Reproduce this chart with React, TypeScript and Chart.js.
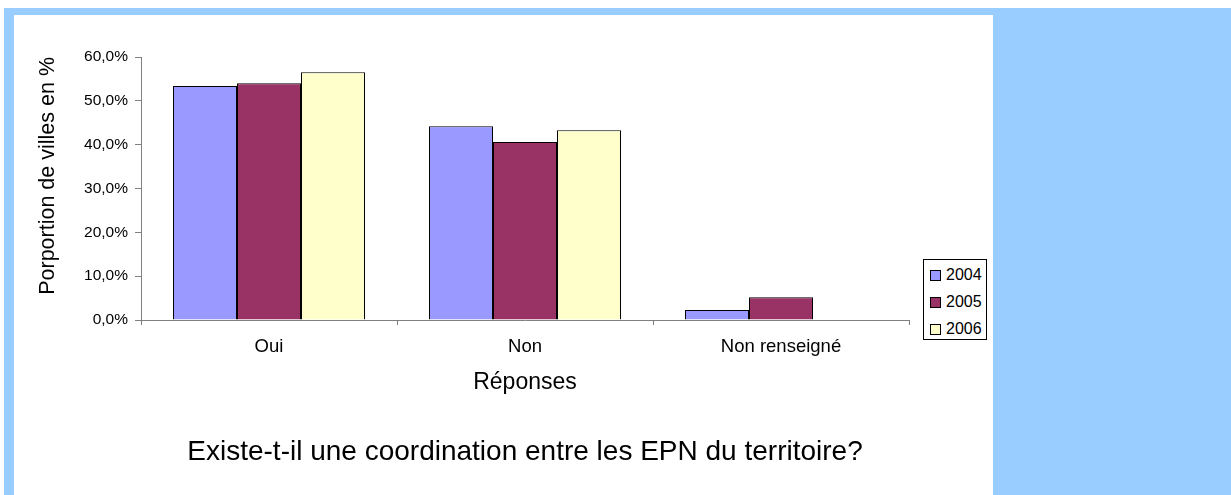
import React, { useEffect, useRef } from 'react';
import { Chart, registerables } from 'chart.js';

Chart.register(...registerables);

const categories = ['Oui', 'Non', 'Non renseigné'];
const seriesLabels = ['2004', '2005', '2006'];
const values2004 = [53.4, 44.2, 2.3];
const values2005 = [54.0, 40.6, 5.2];
const values2006: (number | null)[] = [56.5, 43.3, null];
const seriesColors = ['#9999FF', '#993366', '#FFFFCC'];
const yMin = 0;
const yMax = 60;
const yStep = 10;
const yTitle = 'Porportion de villes en %';
const xTitle = 'Réponses';
const chartTitle = 'Existe-t-il une coordination entre les EPN du territoire?';

const FONT = '"Liberation Sans", Arial, Helvetica, sans-serif';

export default function App() {
  const canvasRef = useRef<HTMLCanvasElement | null>(null);

  useEffect(() => {
    const canvas = canvasRef.current;
    if (!canvas) return;
    const seriesValues = [values2004, values2005, values2006];
    const chart = new Chart(canvas, {
      type: 'bar',
      data: {
        labels: categories,
        datasets: seriesLabels.map((label, i) => ({
          label,
          data: seriesValues[i],
          backgroundColor: seriesColors[i],
          borderColor: '#000000',
          borderWidth: 1,
          categoryPercentage: 0.75,
          barPercentage: 1.0,
        })),
      },
      options: {
        responsive: false,
        animation: false,
        devicePixelRatio: 1,
        layout: {
          padding: { left: 0, right: 322, top: 57, bottom: 26.2 },
        },
        plugins: {
          legend: { display: false },
          tooltip: { enabled: false },
          title: {
            display: true,
            position: 'bottom',
            fullSize: false,
            text: chartTitle,
            color: '#000000',
            font: { family: FONT, size: 28, weight: 'normal', lineHeight: 1.2 },
            padding: { top: 38.4, bottom: 0 },
          },
        },
        scales: {
          x: {
            type: 'category',
            grid: {
              offset: true,
              drawOnChartArea: false,
              drawTicks: true,
              tickLength: 5,
              color: '#808080',
            },
            border: { color: '#808080', width: 1 },
            ticks: {
              color: '#000000',
              font: { family: FONT, size: 18.5 },
              padding: 11,
              maxRotation: 0,
              autoSkip: false,
            },
            title: {
              display: true,
              text: xTitle,
              color: '#000000',
              font: { family: FONT, size: 23 },
              padding: 0,
            },
            afterFit: (s: any) => {
              s.height = 76.8;
              s.paddingLeft = 0;
              s.paddingRight = 0;
            },
          },
          y: {
            min: yMin,
            max: yMax,
            grid: {
              drawOnChartArea: false,
              drawTicks: true,
              tickLength: 6,
              color: '#808080',
            },
            border: { color: '#808080', width: 1 },
            ticks: {
              stepSize: yStep,
              color: '#000000',
              font: { family: FONT, size: 15.5 },
              padding: 7,
              callback: (v: any) => Number(v).toFixed(1).replace('.', ',') + '%',
            },
            title: {
              display: true,
              text: yTitle,
              align: 'end',
              color: '#000000',
              font: { family: FONT, size: 21.5 },
              padding: { top: 35, bottom: 0 },
            },
            afterFit: (s: any) => {
              s.width = 141;
              s.paddingTop = 0;
              s.paddingBottom = 0;
            },
          },
        },
      },
    });
    return () => chart.destroy();
  }, []);

  const legendRowTops = [0, 1, 2];

  return (
    <div style={{ position: 'absolute', left: 0, top: 0, width: 1231, height: 495, overflow: 'hidden', background: '#ffffff' }}>
      <div style={{ position: 'absolute', left: 4, top: 8, width: 1227, height: 487, background: '#99CCFF' }} />
      <div style={{ position: 'absolute', left: 14, top: 15, width: 979, height: 480, background: '#ffffff' }} />
      <canvas
        ref={canvasRef}
        width={1231}
        height={495}
        style={{ position: 'absolute', left: 0, top: 0, width: 1231, height: 495 }}
      />
      <div
        style={{
          position: 'absolute',
          left: 923,
          top: 259,
          width: 62,
          height: 79,
          border: '1px solid #000',
          background: '#ffffff',
          fontFamily: FONT,
          fontSize: 16,
          color: '#000',
        }}
      >
        {legendRowTops.map((i) => (
          <div
            key={seriesLabels[i]}
            style={{ position: 'absolute', left: 0, top: 5 + i * 27, height: 20, display: 'flex', alignItems: 'center' }}
          >
            <div
              style={{
                marginLeft: 6,
                width: 9,
                height: 9,
                border: '1px solid #000',
                background: seriesColors[i],
              }}
            />
            <span style={{ marginLeft: 5, lineHeight: '20px' }}>{seriesLabels[i]}</span>
          </div>
        ))}
      </div>
    </div>
  );
}
